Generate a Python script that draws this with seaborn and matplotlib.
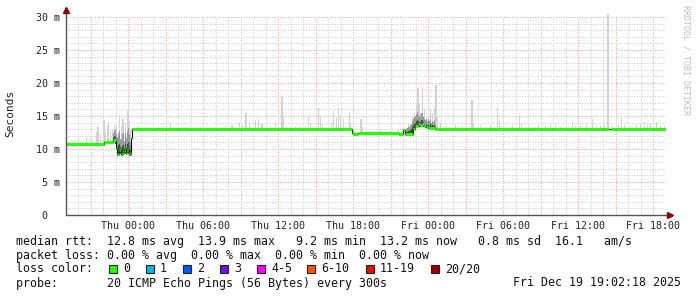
import numpy as np
import matplotlib
matplotlib.use("Agg")
import matplotlib.pyplot as plt
import seaborn as sns
from matplotlib.lines import Line2D
from matplotlib.patches import Rectangle

# ---------------- data (hours relative to Thu 00:00) ----------------
med_t = [-4.97, -1.90, -1.20, -0.96, -0.88, -0.80, -0.72, -0.64, -0.56, -0.48,
         -0.40, -0.32, -0.24, -0.16, -0.08, 0.00, 0.08, 0.16, 0.24, 0.30,
         17.88, 17.96, 18.40, 21.68, 22.02, 22.14, 22.78, 22.96, 23.20, 23.36,
         23.52, 23.68, 23.84, 24.02, 24.56, 38.50, 38.66, 43.03]
med_v = [10.8, 11.0, 11.4, 10.2, 9.3, 9.3, 9.8, 10.0, 9.3, 9.2,
         9.6, 9.9, 10.2, 9.5, 9.8, 10.1, 9.4, 9.2, 11.6, 13.1,
         12.5, 12.3, 12.4, 12.3, 12.9, 12.3, 13.1, 13.5, 13.8, 13.6,
         13.8, 13.6, 13.4, 13.2, 13.1, np.nan, 13.1, 13.1]

smoke_t = [-3.36, -3.04, -2.56, -2.42, -2.24, -1.94, -1.84, -1.62, -1.56, -1.44,
           -1.28, -1.12, -0.96, -0.70, -0.56, -0.42, -0.24, -0.02, 0.08, 0.16,
           0.78, 1.44, 3.38, 4.56, 5.76, 6.96, 7.76, 8.30, 8.88, 9.12,
           9.42, 9.68, 10.16, 10.42, 10.70, 11.04, 11.36, 11.76, 12.00, 12.30,
           12.40, 12.64, 13.36, 13.76, 14.16, 14.42, 14.56, 15.22, 15.36, 15.52,
           15.84, 16.24, 16.42, 16.64, 16.82, 16.96, 17.22, 17.68, 17.76, 18.16,
           18.62, 18.72, 18.96, 19.36, 20.16, 20.96, 21.60, 21.92, 22.16, 22.40,
           22.72, 22.88, 23.04, 23.18, 23.28, 23.36, 23.54, 23.68, 23.84, 24.00,
           24.16, 24.32, 24.48, 24.62, 24.72, 24.96, 25.44, 26.16, 26.72, 27.50,
           27.60, 28.16, 28.96, 29.54, 29.68, 30.16, 30.72, 31.30, 31.44, 32.00,
           32.80, 33.36, 33.76, 34.16, 34.56, 35.04, 35.52, 35.76, 36.16, 36.64,
           37.12, 37.44, 37.76, 38.08, 38.38, 38.72, 39.20, 39.44, 39.68, 40.16,
           40.64, 40.96, 41.30, 41.52, 41.76, 42.24, 42.56, 42.88]
smoke_v = [11.7, 11.4, 12.6, 13.4, 12.2, 14.4, 12.5, 13.6, 14.1, 12.8,
           13.0, 13.6, 14.0, 15.0, 13.5, 14.6, 14.0, 15.8, 14.2, 13.0,
           13.4, 13.3, 13.9, 13.3, 13.3, 13.4, 13.5, 13.7, 14.1, 13.6,
           15.4, 13.8, 14.4, 14.6, 13.8, 13.5, 13.4, 14.1, 13.6, 17.9,
           15.0, 13.5, 13.4, 13.5, 13.4, 14.9, 14.0, 16.2, 15.0, 13.8,
           13.4, 14.0, 15.7, 14.8, 16.2, 15.2, 14.5, 15.4, 13.8, 12.7,
           14.6, 13.4, 12.8, 12.7, 12.8, 12.7, 13.0, 13.2, 12.9, 14.0,
           14.8, 15.5, 16.5, 19.3, 17.0, 15.5, 19.3, 16.0, 15.0, 14.8,
           16.0, 15.5, 16.2, 19.7, 15.0, 14.0, 13.5, 13.6, 13.5, 17.4,
           14.0, 13.5, 13.6, 16.3, 14.2, 13.5, 13.7, 15.2, 13.8, 13.5,
           13.7, 13.5, 13.6, 13.7, 13.4, 13.5, 14.1, 13.6, 13.5, 13.8,
           14.6, 13.6, 13.5, 13.6, 30.4, 13.5, 13.7, 14.9, 13.6, 13.5,
           13.6, 13.8, 14.1, 13.6, 14.0, 14.1, 13.6, 13.5]

dark_t = [-1.20, -1.12, -1.04, -0.96, -0.88, -0.80, -0.72, -0.64, -0.56, -0.48,
          -0.40, -0.32, -0.24, -0.16, -0.08, 0.00, 0.08, 0.16,
          22.16, 22.24, 22.32, 22.40, 22.48, 22.56, 22.64, 22.72, 22.80, 22.88,
          22.96, 23.04, 23.12, 23.20, 23.28, 23.36, 23.44, 23.52, 23.60, 23.68,
          23.76, 23.84, 23.92, 24.00, 24.08, 24.16, 24.24, 24.32, 24.40, 24.48, 24.56]
dark_lo = [11.2, 11.2, 10.8, 9.8, 9.0, 9.0, 9.1, 9.2, 9.0, 9.0,
           9.1, 9.2, 9.3, 9.1, 9.2, 9.3, 9.0, 9.0,
           12.1, 12.1, 12.1, 12.1, 12.2, 12.2, 12.3, 12.5, 12.8, 13.0,
           13.2, 13.4, 13.4, 13.5, 13.4, 13.4, 13.5, 13.5, 13.4, 13.3,
           13.2, 13.2, 13.1, 13.0, 13.0, 13.0, 13.0, 13.0, 13.0, 13.0, 13.0]
dark_hi = [12.4, 12.8, 13.0, 12.2, 11.8, 12.5, 12.8, 11.5, 11.4, 12.2,
           12.6, 11.2, 12.4, 11.6, 12.8, 13.2, 12.2, 11.0,
           12.8, 13.0, 13.2, 13.4, 13.3, 13.6, 13.8, 14.2, 14.5, 14.8,
           15.0, 15.3, 15.6, 15.2, 15.0, 14.8, 15.4, 15.5, 14.9, 14.6,
           14.4, 14.6, 14.3, 14.5, 14.2, 14.6, 14.0, 14.3, 14.1, 14.4, 13.8]

x_ticks = [0, 6, 12, 18, 24, 30, 36, 42]
x_labels = ["Thu 00:00", "Thu 06:00", "Thu 12:00", "Thu 18:00",
            "Fri 00:00", "Fri 06:00", "Fri 12:00", "Fri 18:00"]
y_ticks = [0, 5, 10, 15, 20, 25, 30]
y_labels = ["0  ", "5 m", "10 m", "15 m", "20 m", "25 m", "30 m"]

loss_labels = ["0", "1", "2", "3", "4-5", "6-10", "11-19", "20/20"]
loss_colors = ["#26ff00", "#00b8ff", "#0059ff", "#7e00ff", "#ff00ff",
               "#ff5500", "#ff0000", "#a10000"]

legend_rows = [
    "median rtt:  12.8 ms avg  13.9 ms max   9.2 ms min  13.2 ms now   0.8 ms sd  16.1   am/s",
    "packet loss: 0.00 % avg  0.00 % max  0.00 % min  0.00 % now",
    "loss color:",
    "probe:       20 ICMP Echo Pings (56 Bytes) every 300s",
]
timestamp = "Fri Dec 19 19:02:18 2025"

# ---------------- figure ----------------
sns.set_theme(style="white")
plt.rcParams["font.family"] = ["DejaVu Sans Mono"]
W, H = 697, 297
fig = plt.figure(figsize=(W / 100, H / 100), dpi=100)
fig.patch.set_facecolor("white")

def fx(x):
    return x / W

def fy(y):
    return 1 - y / H

ax = fig.add_axes([fx(66), fy(215), 600 / W, 201.3 / H])
ax.set_facecolor("white")
xmin, xmax = -4.97, 43.03
ax.set_xlim(xmin, xmax)
ax.set_ylim(0, 30.5)
for s in ax.spines.values():
    s.set_visible(False)

# grid
for h in np.arange(-4, 44, 1):
    major = (h % 3 == 0)
    ax.axvline(h, ymax=30 / 30.5, color="#eea4a4" if major else "#cdcdcd",
               lw=0.75, ls=(0, (1, 1.5)), zorder=0)
for v in np.arange(1, 31, 1):
    major = (v % 5 == 0)
    ax.axhline(v, color="#eea4a4" if major else "#cdcdcd",
               lw=0.75, ls=(0, (1, 1.5)), zorder=0)

med_t_a = np.array(med_t)
med_v_a = np.array(med_v)

def base_at(t):
    idx = np.searchsorted(med_t_a, t, side="right") - 1
    b = med_v_a[idx]
    return np.where(np.isnan(b), 13.1, b)

# light smoke spikes
st = np.array(smoke_t)
sv = np.array(smoke_v)
sb = base_at(st)
ax.bar(st, sv - sb, bottom=sb, width=0.1, color="#d2d2d2", lw=0, zorder=1)

# darker smoke
dt = np.array(dark_t)
dl = np.array(dark_lo)
dh = np.array(dark_hi)
ax.bar(dt, dh - dl, bottom=dl, width=0.085, color="#9a9a9a", lw=0, zorder=2, align="edge")
ax.bar(dt, (dh - dl) * 0.45, bottom=dl, width=0.085, color="#4a4a4a", lw=0, zorder=2, align="edge")

# median: thin black step line + green loss-coloured segments
sns.lineplot(x=med_t, y=med_v, ax=ax, drawstyle="steps-post", color="black",
             lw=0.8, zorder=3, estimator=None, sort=False)
ax.hlines(med_v[:-1], med_t[:-1], med_t[1:], colors=loss_colors[0], lw=2.2,
          zorder=4, capstyle="butt")

ax.set_xticks(x_ticks)
ax.set_xticklabels(x_labels, fontsize=7.2, color="#222222")
ax.set_yticks(y_ticks)
ax.set_yticklabels(y_labels, fontsize=7.2, color="#222222")
ax.tick_params(axis="x", length=0, pad=4)
ax.tick_params(axis="y", length=0, pad=4.5)
ax.set_xlabel("")
ax.set_ylabel("")

# axis lines with arrows
fig.add_artist(Line2D([fx(66), fx(66)], [fy(215), fy(11)], color="#555555", lw=1,
                      transform=fig.transFigure))
fig.add_artist(Line2D([fx(66), fx(669)], [fy(215), fy(215)], color="#555555", lw=1,
                      transform=fig.transFigure))
fig.add_artist(Line2D([fx(66)], [fy(10)], marker="^", markersize=4, color="#990000",
                      transform=fig.transFigure, lw=0))
fig.add_artist(Line2D([fx(670)], [fy(215)], marker=">", markersize=4, color="#990000",
                      transform=fig.transFigure, lw=0))

# axis title and watermark
fig.text(fx(10), fy(113), "Seconds", rotation=90, ha="center", va="center",
         fontsize=8, color="#222222")
fig.text(fx(686), fy(5), "RRDTOOL / TOBI OETIKER", rotation=270, ha="center", va="top",
         fontsize=6.0, color="#bdbdbd")

# legend rows
FS = 8.33
row_y = [241, 255, 269, 283]
for txt, y in zip(legend_rows, row_y):
    fig.text(fx(16), fy(y), txt, ha="left", va="center", fontsize=FS, color="#111111")
fig.text(fx(681), fy(row_y[3]), timestamp, ha="right", va="center", fontsize=FS,
         color="#111111")

sq_x = [109, 146, 183, 220, 257, 307, 366, 431]
for lab, col, x in zip(loss_labels, loss_colors, sq_x):
    fig.add_artist(Rectangle((fx(x), fy(273)), 8 / W, 8 / H, facecolor=col,
                             edgecolor="#222222", lw=0.8, transform=fig.transFigure))
    fig.text(fx(x + 14), fy(row_y[2]), lab, ha="left", va="center", fontsize=FS,
             color="#111111")

fig.savefig("out.png", dpi=100)
